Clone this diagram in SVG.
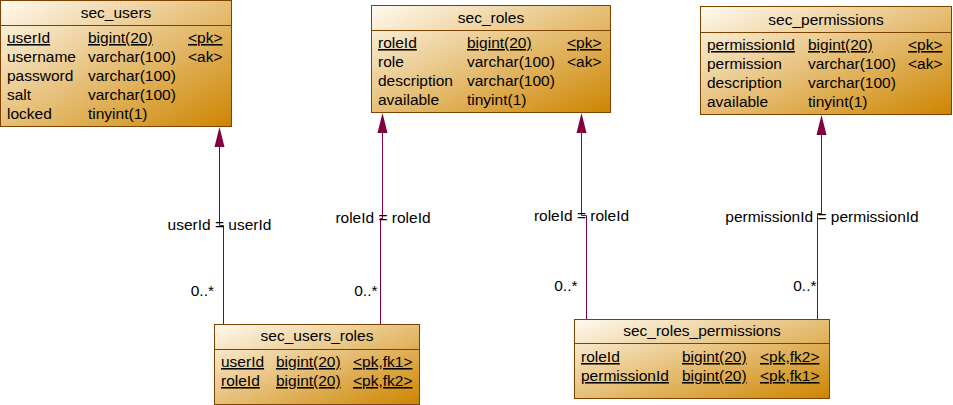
<svg xmlns="http://www.w3.org/2000/svg" width="953" height="405" viewBox="0 0 953 405">
<defs>
<linearGradient id="fill" x1="0" y1="0" x2="1" y2="1">
<stop offset="0" stop-color="#fffaf0"/>
<stop offset="1" stop-color="#cd8500"/>
</linearGradient>
</defs>
<style>
text{font-family:"Liberation Sans",Arial,sans-serif;font-size:15.5px;fill:#000}
.box{fill:url(#fill);stroke:#7d4200;stroke-width:1}
.sep{stroke:#7d4200;stroke-width:1}
.t{text-anchor:middle}
.u{text-decoration:underline}
.c{fill:none;stroke:#800040;stroke-width:1}
.ah{fill:#800040}
.lbl{text-anchor:middle}
.m{text-anchor:end}
</style>
<rect width="953" height="405" fill="#fff"/>
<g id="sec_users">
<rect class="box" x="0.5" y="0.5" width="231" height="126"/>
<line class="sep" x1="0.5" y1="25.5" x2="231.5" y2="25.5"/>
<text class="t" x="116" y="18">sec_users</text>
<text class="u" x="7" y="43">userId</text><text class="u" x="88" y="43">bigint(20)</text><text class="u" x="188" y="43">&lt;pk&gt;</text>
<text x="7" y="62">username</text><text x="88" y="62">varchar(100)</text><text x="188" y="62">&lt;ak&gt;</text>
<text x="7" y="81">password</text><text x="88" y="81">varchar(100)</text>
<text x="7" y="100">salt</text><text x="88" y="100">varchar(100)</text>
<text x="7" y="119">locked</text><text x="88" y="119">tinyint(1)</text>
</g>
<g id="sec_roles">
<rect class="box" x="371.5" y="5.5" width="239" height="107"/>
<line class="sep" x1="371.5" y1="30.5" x2="610.5" y2="30.5"/>
<text class="t" x="491" y="23">sec_roles</text>
<text class="u" x="378" y="48">roleId</text><text class="u" x="467" y="48">bigint(20)</text><text class="u" x="567" y="48">&lt;pk&gt;</text>
<text x="378" y="67">role</text><text x="467" y="67">varchar(100)</text><text x="567" y="67">&lt;ak&gt;</text>
<text x="378" y="86">description</text><text x="467" y="86">varchar(100)</text>
<text x="378" y="105">available</text><text x="467" y="105">tinyint(1)</text>
</g>
<g id="sec_permissions">
<rect class="box" x="700.5" y="6.5" width="251" height="108"/>
<line class="sep" x1="700.5" y1="32.5" x2="951.5" y2="32.5"/>
<text class="t" x="826" y="25">sec_permissions</text>
<text class="u" x="707" y="50">permissionId</text><text class="u" x="808" y="50">bigint(20)</text><text class="u" x="908" y="50">&lt;pk&gt;</text>
<text x="707" y="69">permission</text><text x="808" y="69">varchar(100)</text><text x="908" y="69">&lt;ak&gt;</text>
<text x="707" y="88">description</text><text x="808" y="88">varchar(100)</text>
<text x="707" y="107">available</text><text x="808" y="107">tinyint(1)</text>
</g>
<g id="sec_users_roles">
<rect class="box" x="214.5" y="324.5" width="205" height="80"/>
<line class="sep" x1="214.5" y1="349.5" x2="419.5" y2="349.5"/>
<text class="t" x="317" y="341">sec_users_roles</text>
<text class="u" x="221" y="367">userId</text><text class="u" x="276" y="367">bigint(20)</text><text class="u" x="353" y="367">&lt;pk,fk1&gt;</text>
<text class="u" x="221" y="386">roleId</text><text class="u" x="276" y="386">bigint(20)</text><text class="u" x="353" y="386">&lt;pk,fk2&gt;</text>
</g>
<g id="sec_roles_permissions">
<rect class="box" x="574.5" y="319.5" width="255" height="79"/>
<line class="sep" x1="574.5" y1="343.5" x2="829.5" y2="343.5"/>
<text class="t" x="702" y="336">sec_roles_permissions</text>
<text class="u" x="581" y="362">roleId</text><text class="u" x="682" y="362">bigint(20)</text><text class="u" x="760" y="362">&lt;pk,fk2&gt;</text>
<text class="u" x="581" y="381">permissionId</text><text class="u" x="682" y="381">bigint(20)</text><text class="u" x="760" y="381">&lt;pk,fk1&gt;</text>
</g>
<g id="connectors">
<path class="c" d="M219.5,140 V225.5 H223.5 V324"/>
<polygon class="ah" points="219.5,127 214.5,147 224.5,147"/>
<text class="lbl" x="219.5" y="230">userId = userId</text>
<text class="m" x="214" y="296">0..*</text>

<path class="c" d="M382.5,126 V218.5 H380.5 V324"/>
<polygon class="ah" points="382.5,113 377.5,133 387.5,133"/>
<text class="lbl" x="383" y="223">roleId = roleId</text>
<text class="m" x="377.5" y="296">0..*</text>

<path class="c" d="M581.5,126 V215.5 H586.5 V319"/>
<polygon class="ah" points="581.5,113 576.5,133 586.5,133"/>
<text class="lbl" x="581.5" y="221">roleId = roleId</text>
<text class="m" x="577.5" y="291">0..*</text>

<path class="c" d="M821.5,128 V213.5 H817.5 V319"/>
<polygon class="ah" points="821.5,115 816.5,135 826.5,135"/>
<text class="lbl" x="822" y="222">permissionId = permissionId</text>
<text class="m" x="816.5" y="291">0..*</text>
</g>
</svg>
